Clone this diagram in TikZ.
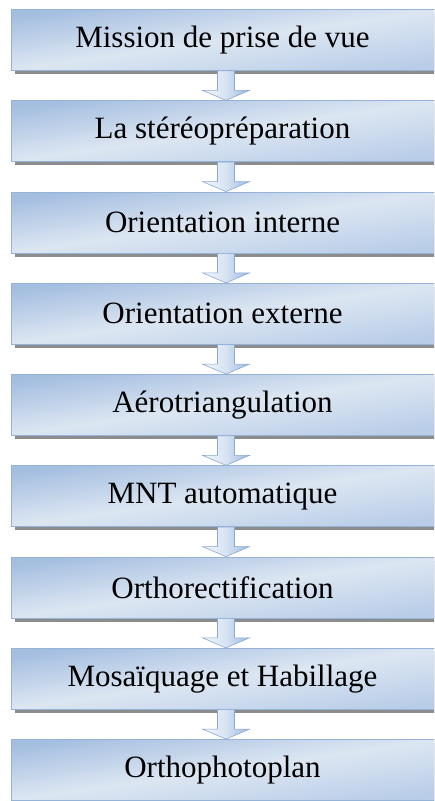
\documentclass[tikz,border=0pt]{standalone}
\usepackage{fontspec}
\setmainfont{Liberation Serif}
\usetikzlibrary{calc,shadows}
\definecolor{boxtop}{HTML}{A4BEE0}
\definecolor{boxmid}{HTML}{DCE6F2}
\definecolor{boxbot}{HTML}{B9CDE8}
\definecolor{boxline}{HTML}{95B3D7}
\definecolor{arrlight}{HTML}{F2F6FB}
\definecolor{arrdark}{HTML}{9AB8DF}
\definecolor{arrline}{HTML}{8AA9D2}
\tikzset{
  stepbox/.style={rectangle, draw=boxline, line width=0.8pt,
    top color=boxtop, bottom color=boxbot, middle color=boxmid,
    shading angle=8,
    minimum width=423pt, minimum height=61pt, inner sep=0pt,
    font=\fontsize{31}{36}\selectfont, text=black,
    drop shadow={shadow xshift=4pt, shadow yshift=-3.5pt, fill=black!50, opacity=0.9}},
  blockarrow/.style={draw=arrline, line width=0.6pt, left color=arrlight, right color=arrdark,
    middle color=arrlight!70!arrdark, line join=miter}
}
\begin{document}
\begin{tikzpicture}[x=1pt,y=-1pt]
\useasboundingbox (0,0) rectangle (434,801);
\clip (0,0) rectangle (434,801);
% process steps, top to bottom
\foreach \i/\t in {1/Mission de prise de vue,
                   2/La stéréopréparation,
                   3/Orientation interne,
                   4/Orientation externe,
                   5/Aérotriangulation,
                   6/MNT automatique,
                   7/Orthorectification,
                   8/Mosaïquage et Habillage,
                   9/Orthophotoplan}
  \node[stepbox] (b\i) at (222.5,{40+(\i-1)*91.25}) {\t};
% block arrows between consecutive steps
\foreach \i [evaluate=\i as \j using int(\i+1)] in {1,...,8}
  \path[blockarrow] let \p1=($(b\i.south)+(3.5pt,0)$), \p2=($(b\j.north)+(3.5pt,0)$) in
    (\x1-8.5pt,\y1) -- (\x1-8.5pt,\y2+10pt) -- (\x1-23.5pt,\y2+10pt) -- (\x2,\y2)
    -- (\x1+23.5pt,\y2+10pt) -- (\x1+8.5pt,\y2+10pt) -- (\x1+8.5pt,\y1) -- cycle;
\end{tikzpicture}
\end{document}
